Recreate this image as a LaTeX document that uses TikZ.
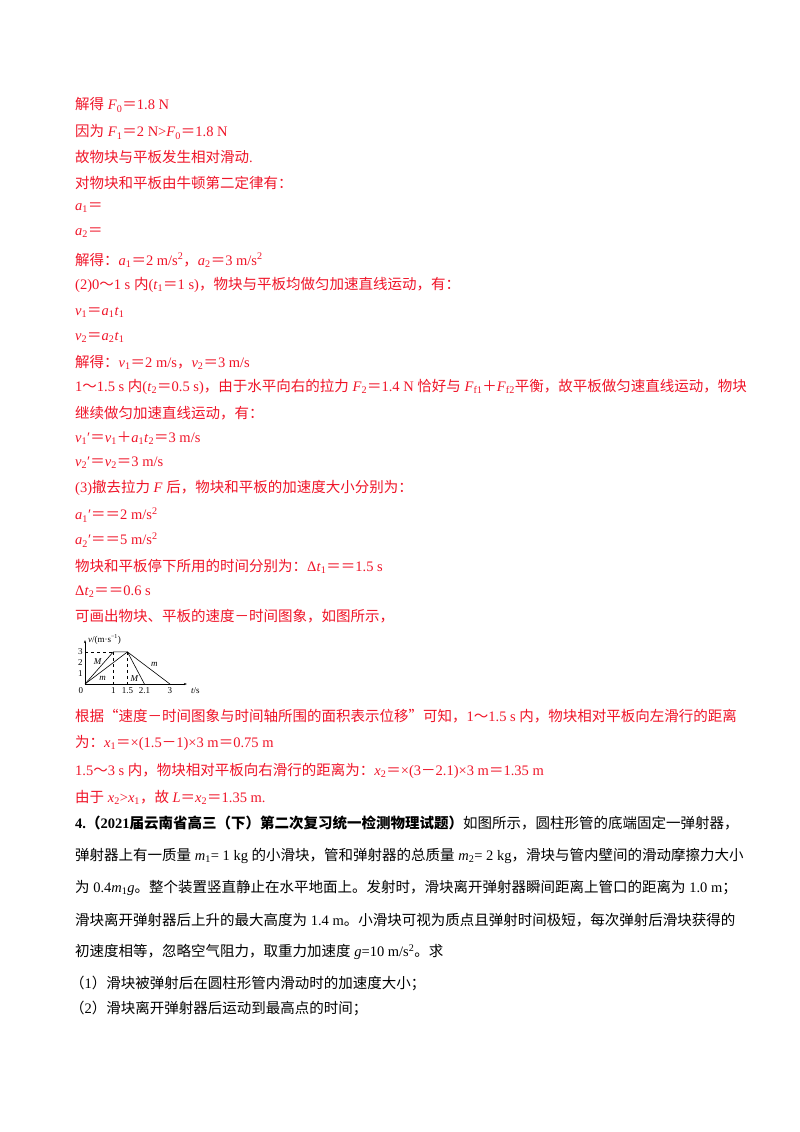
\documentclass[tikz,border=0pt]{standalone}
\usepackage{fontspec}
\usetikzlibrary{arrows.meta}
\setmainfont{Liberation Serif}
\newfontfamily\cjk{Noto Sans CJK SC}
\newcommand\C[1]{{\cjk #1}}
\newcommand\I[1]{\textit{#1}}
\newcommand\dn[1]{\textsubscript{#1}}
\newcommand\up[1]{\textsuperscript{#1}}
\definecolor{ansred}{RGB}{240,20,40}
\tikzset{
  txt/.style={anchor=west,inner sep=0pt,font=\fontsize{14.5}{16}\selectfont},
  red/.style={txt,text=ansred},
  blk/.style={txt,text=black},
  gl/.style={font=\fontsize{9}{10}\selectfont,inner sep=0pt,text=black},
  curve/.style={black,line width=0.6pt},
}
\begin{document}
\begin{tikzpicture}[x=1pt,y=-1pt]
\useasboundingbox (0,0) rectangle (800,1132);
\fill[white] (0,0) rectangle (800,1132);
\node[red] (l1) at (75,105) {\C{解得} \I{F}\dn{0}\C{＝}1.8 N};
\node[red] (l2) at (75,132) {\C{因为} \I{F}\dn{1}\C{＝}2 N>\I{F}\dn{0}\C{＝}1.8 N};
\node[red] (l3) at (75,157) {\C{故物块与平板发生相对滑动}.};
\node[red] (l4) at (75,183) {\C{对物块和平板由牛顿第二定律有：}};
\node[red] (l5) at (75,208) {\I{a}\dn{1}\C{＝}};
\node[red] (l6) at (75,233) {\I{a}\dn{2}\C{＝}};
\node[red] (l7) at (75,260) {\C{解得：}\I{a}\dn{1}\C{＝}2 m/s\up{2}\C{，}\I{a}\dn{2}\C{＝}3 m/s\up{2}};
\node[red] (l8) at (75,285) {(2)0\C{～}1 s \C{内}(\I{t}\dn{1}\C{＝}1 s)\C{，物块与平板均做匀加速直线运动，有：}};
\node[red] (l9) at (75,312) {\I{v}\dn{1}\C{＝}\I{a}\dn{1}\I{t}\dn{1}};
\node[red] (l10) at (75,337) {\I{v}\dn{2}\C{＝}\I{a}\dn{2}\I{t}\dn{1}};
\node[red] (l11) at (75,362) {\C{解得：}\I{v}\dn{1}\C{＝}2 m/s\C{，}\I{v}\dn{2}\C{＝}3 m/s};
\node[red] (l12) at (75,387) {1\C{～}1.5 s \C{内}(\I{t}\dn{2}\C{＝}0.5 s)\C{，由于水平向右的拉力} \I{F}\dn{2}\C{＝}1.4 N \C{恰好与} \I{F}\dn{f1}\C{＋}\I{F}\dn{f2}\C{平衡，故平板做匀速直线运动，物块}};
\node[red] (l13) at (75,413) {\C{继续做匀加速直线运动，有：}};
\node[red] (l14) at (75,438) {\I{v}\dn{1}′\C{＝}\I{v}\dn{1}\C{＋}\I{a}\dn{1}\I{t}\dn{2}\C{＝}3 m/s};
\node[red] (l15) at (75,463) {\I{v}\dn{2}′\C{＝}\I{v}\dn{2}\C{＝}3 m/s};
\node[red] (l16) at (75,488) {(3)\C{撤去拉力} \I{F} \C{后，物块和平板的加速度大小分别为：}};
\node[red] (l17) at (75,515) {\I{a}\dn{1}′\C{＝＝}2 m/s\up{2}};
\node[red] (l18) at (75,540) {\I{a}\dn{2}′\C{＝＝}5 m/s\up{2}};
\node[red] (l19) at (75,566) {\C{物块和平板停下所用的时间分别为：}Δ\I{t}\dn{1}\C{＝＝}1.5 s};
\node[red] (l20) at (75,592) {Δ\I{t}\dn{2}\C{＝＝}0.6 s};
\node[red] (l21) at (75,616) {\C{可画出物块、平板的速度－时间图象，如图所示，}};
% graph
\begin{scope}[shift={(85,684)},x=28.3pt,y=10.7pt]
  \coordinate (o) at (0,0);
  \coordinate (xe) at (3.6,0);
  \coordinate (ye) at (0,4.1);
  \draw[black,line width=0.5pt,-{Stealth[length=3pt]}] (o) -- (xe);
  \draw[black,line width=0.5pt,-{Stealth[length=3pt]}] (o) -- (ye);
  \coordinate (a) at (1,3); \coordinate (b) at (1.5,3);
  \coordinate (c) at (2.1,0); \coordinate (d) at (3,0);
  \coordinate (y3) at (0,3); \coordinate (x1) at (1,0); \coordinate (x15) at (1.5,0);
  \draw[black,dashed,line width=0.4pt] (y3) -- (a) (a) -- (x1) (b) -- (x15);
  \draw[curve] (o) -- (a) -- (b) -- (c);
  \draw[curve] (o) -- (b) -- (d);
  \node[gl,anchor=east] (t3) at (-0.08,3) {3};
  \node[gl,anchor=east] (t2) at (-0.08,2) {2};
  \node[gl,anchor=east] (t1) at (-0.08,1) {1};
  \node[gl,anchor=north] (t0) at (-0.15,-0.3) {0};
  \node[gl,anchor=north] (s1) at (1,-0.3) {1};
  \node[gl,anchor=north] (s15) at (1.5,-0.3) {1.5};
  \node[gl,anchor=north] (s21) at (2.1,-0.3) {2.1};
  \node[gl,anchor=north] (s3) at (3,-0.3) {3};
  \node[gl,anchor=north] (ts) at (3.9,-0.3) {\I{t}/s};
  \node[gl,anchor=west] (vl) at (0.1,4.2) {\I{v}/(m·s\up{−1})};
  \node[gl] (M1) at (0.45,2.1) {\I{M}};
  \node[gl] (m1) at (0.62,0.5) {\I{m}};
  \node[gl] (M2) at (1.75,0.5) {\I{M}};
  \node[gl] (m2) at (2.45,1.8) {\I{m}};
\end{scope}
\node[red] (l22) at (75,716) {\C{根据“速度－时间图象与时间轴所围的面积表示位移”可知，}1\C{～}1.5 s \C{内，物块相对平板向左滑行的距离}};
\node[red] (l23) at (75,743) {\C{为：}\I{x}\dn{1}\C{＝}×(1.5\C{－}1)×3 m\C{＝}0.75 m};
\node[red] (l24) at (75,771) {1.5\C{～}3 s \C{内，物块相对平板向右滑行的距离为：}\I{x}\dn{2}\C{＝}×(3\C{－}2.1)×3 m\C{＝}1.35 m};
\node[red] (l25) at (75,797) {\C{由于} \I{x}\dn{2}>\I{x}\dn{1}\C{，故} \I{L}\C{＝}\I{x}\dn{2}\C{＝}1.35 m.};
\node[blk] (b1) at (75,823) {\textbf{4.\C{（}2021\C{届云南省高三（下）第二次复习统一检测物理试题）}}\C{如图所示，圆柱形管的底端固定一弹射器，}};
\node[blk] (b2) at (75,856) {\C{弹射器上有一质量} \I{m}\dn{1}= 1 kg \C{的小滑块，管和弹射器的总质量} \I{m}\dn{2}= 2 kg\C{，滑块与管内壁间的滑动摩擦力大小}};
\node[blk] (b3) at (75,888) {\C{为} 0.4\I{m}\dn{1}\I{g}\C{。整个装置竖直静止在水平地面上。发射时，滑块离开弹射器瞬间距离上管口的距离为} 1.0 m\C{；}};
\node[blk] (b4) at (75,920) {\C{滑块离开弹射器后上升的最大高度为} 1.4 m\C{。小滑块可视为质点且弹射时间极短，每次弹射后滑块获得的}};
\node[blk] (b5) at (75,952) {\C{初速度相等，忽略空气阻力，取重力加速度} \I{g}=10 m/s\up{2}\C{。求}};
\node[blk] (b6) at (70,983) {\C{（}1\C{）滑块被弹射后在圆柱形管内滑动时的加速度大小；}};
\node[blk] (b7) at (70,1008) {\C{（}2\C{）滑块离开弹射器后运动到最高点的时间；}};
\end{tikzpicture}
\end{document}
